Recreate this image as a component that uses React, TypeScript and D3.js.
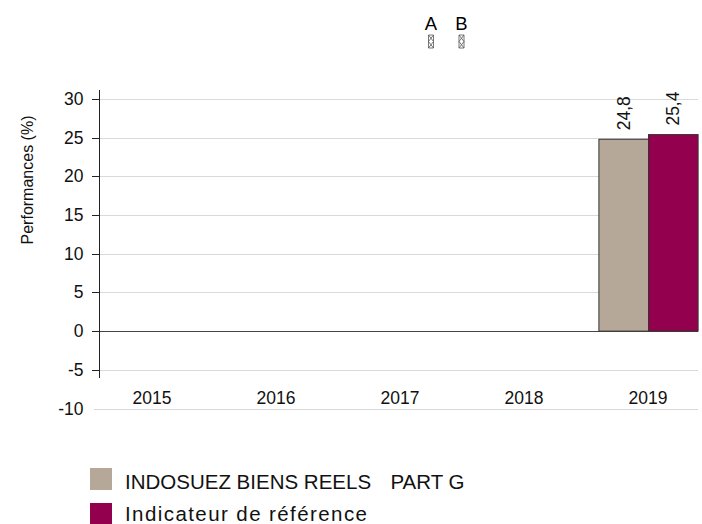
import React from "react";
import * as d3 from "d3";

const categories = ["2015", "2016", "2017", "2018", "2019"];
const seriesNames = ["INDOSUEZ BIENS REELS  PART G", "Indicateur de référence"];
const fundValues: (number | null)[] = [null, null, null, null, 24.8];
const benchValues: (number | null)[] = [null, null, null, null, 25.4];
const yTicks = [30, 25, 20, 15, 10, 5, 0, -5, -10];
const colors = ["#b5a898", "#93004d"];
const topLetters = ["A", "B"];

const W = 702;
const H = 524;
const FONT = "'Liberation Sans', Arial, sans-serif";

export default function App() {
  const y = d3.scaleLinear().domain([-10, 30]).range([408.5, 99]);
  const x = d3.scaleBand<string>().domain(categories).range([90, 710]).paddingInner(0).paddingOuter(0);
  const inner = d3.scaleBand<string>().domain(["0", "1"]).range([0, x.bandwidth() * 0.8]);
  const groupOffset = x.bandwidth() * 0.1;
  const plotLeft = 99;
  const plotRight = 698;
  const series = [fundValues, benchValues];
  const fmt = (v: number) => v.toFixed(1).replace(".", ",");
  const letterX = d3.scalePoint<string>().domain(topLetters).range([431, 461.5]);

  const renderLegendText = (n: string, k: number) => {
    const idx = n.indexOf("  ");
    if (idx >= 0) {
      return (
        <text x={125} y={489} fontSize={20.5} fill="#111" style={{ whiteSpace: "pre" }}>
          {n.slice(0, idx + 2)}
          <tspan dx={8}>{n.slice(idx + 2)}</tspan>
        </text>
      );
    }
    return (
      <text x={125} y={489 + k * 31.5} fontSize={20.5} fill="#111" textLength={242} lengthAdjust="spacing" style={{ whiteSpace: "pre" }}>{n}</text>
    );
  };

  return (
    <svg width={W} height={H} style={{ position: "absolute", left: 0, top: 0, fontFamily: FONT }}>
      <rect width={W} height={H} fill="#fff" />
      {/* top letters */}
      {topLetters.map((l) => {
        const cx = letterX(l)!;
        return (
          <g key={l}>
            <text x={cx} y={30} textAnchor="middle" fontSize={18.5} fill="#000">{l}</text>
            <path
              d={`M${cx - 2.5},35 h5 M${cx - 2.5},48 h5 M${cx - 2.5},35 L${cx + 2.5},41.5 L${cx - 2.5},48 M${cx + 2.5},35 L${cx - 2.5},41.5 L${cx + 2.5},48 M${cx - 2.5},35 V48 M${cx + 2.5},35 V48`}
              stroke="#555" strokeWidth={0.8} fill="none"
            />
          </g>
        );
      })}
      {/* gridlines */}
      {yTicks.map((t) => (
        <line key={"g" + t} x1={t === -10 ? 94 : plotLeft} x2={plotRight} y1={Math.round(y(t)) + 0.5} y2={Math.round(y(t)) + 0.5}
          stroke={t === 0 ? "#444" : "#d9d9d9"} strokeWidth={1} />
      ))}
      {/* y ticks */}
      {yTicks.filter((t) => t !== -10).map((t) => (
        <line key={"t" + t} x1={92} x2={99} y1={Math.round(y(t)) + 0.5} y2={Math.round(y(t)) + 0.5} stroke="#222" />
      ))}
      {yTicks.map((t) => (
        <text key={"l" + t} x={83.5} y={y(t) + 6} textAnchor="end" fontSize={17.5} fill="#111">{t}</text>
      ))}
      {/* y axis */}
      <line x1={99.5} x2={99.5} y1={90} y2={378} stroke="#222" />
      {/* bars */}
      {categories.map((c, i) => (
        <g key={c} transform={`translate(${x(c)! + groupOffset},0)`}>
          {series.map((s, k) => {
            const v = s[i];
            if (v == null) return null;
            const bx = inner(String(k))!;
            const bw = inner.bandwidth();
            return (
              <g key={k}>
                <rect x={bx + 0.5} y={y(v)} width={bw} height={y(0) - y(v)} fill={colors[k]} stroke="#333" strokeWidth={1} />
                <text transform={`translate(${bx + bw / 2 + 6.5},${y(v) - 9}) rotate(-90)`} fontSize={17.5} fill="#111">{fmt(v)}</text>
              </g>
            );
          })}
        </g>
      ))}
      {/* x labels */}
      {categories.map((c) => (
        <text key={"x" + c} x={x(c)! + x.bandwidth() / 2} y={404} textAnchor="middle" fontSize={17.5} fill="#111">{c}</text>
      ))}
      {/* y label */}
      <text transform={`translate(33,180) rotate(-90)`} textAnchor="middle" fontSize={16} fill="#111">Performances (%)</text>
      {/* legend */}
      {seriesNames.map((n, k) => (
        <g key={n}>
          <rect x={90} y={468 + k * 35} width={22} height={22} fill={colors[k]} />
          {renderLegendText(n, k)}
        </g>
      ))}
    </svg>
  );
}
